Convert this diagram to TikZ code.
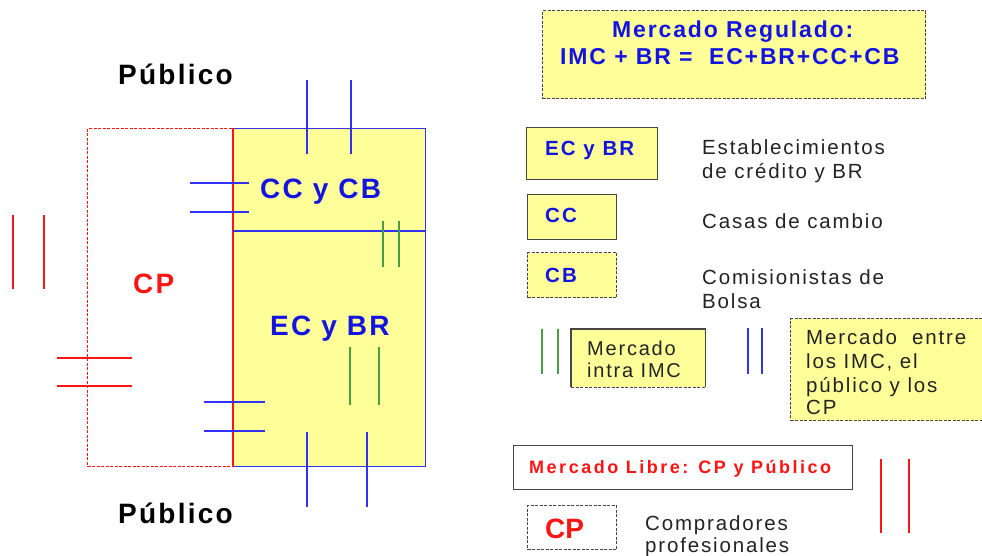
\documentclass[tikz,border=0pt]{standalone}
\usepackage{fontspec}
\setmainfont{Liberation Sans}
\newfontfamily\lsp[LetterSpace=8]{Liberation Sans}
\newfontfamily\lsn[LetterSpace=9]{Liberation Sans}
\newfontfamily\lsb[LetterSpace=10]{Liberation Sans}
\newfontfamily\lsq[LetterSpace=14]{Liberation Sans}
\definecolor{yel}{RGB}{255,255,153}
\definecolor{tblue}{RGB}{20,20,225}
\definecolor{lblue}{RGB}{50,50,245}
\definecolor{tred}{RGB}{255,20,20}
\definecolor{lgreen}{RGB}{70,160,70}
\definecolor{tgray}{RGB}{35,35,35}
\definecolor{bgray}{RGB}{70,70,70}
\begin{document}
\begin{tikzpicture}[x=1pt,y=-1pt,
  box/.style={draw=bgray,line width=1.3pt,fill=yel,inner sep=0pt,anchor=north west},
  dbox/.style={box,dash pattern=on 3pt off 1.5pt},
  txt/.style={inner sep=0pt,anchor=base west,text=tgray,font=\lsn\fontsize{20.5}{24}\selectfont},
  btxt/.style={inner sep=0pt,anchor=base west,text=tblue,font=\lsb\bfseries\fontsize{20.5}{24}\selectfont},
  big/.style={inner sep=0pt,anchor=base west,font=\lsp\bfseries\fontsize{28}{32}\selectfont},
  bl/.style={draw=lblue,line width=1.4pt},
  rl/.style={draw=tred,line width=1.4pt},
  gl/.style={draw=lgreen,line width=1.4pt}
]
\useasboundingbox (0,0) rectangle (982,555);
\clip (0,0) rectangle (982,555);
\fill[white] (0,0) rectangle (982,555);

% ---------- left diagram ----------
\node[draw=tred,dash pattern=on 3pt off 1.5pt,line width=1.3pt,inner sep=0pt,anchor=north west,
      minimum width=146pt,minimum height=338pt] (cpzone) at (87,128) {};
\node[draw=lblue,line width=1.4pt,fill=yel,inner sep=0pt,anchor=north west,
      minimum width=192pt,minimum height=338pt] (imc) at (233,128) {};
\draw[rl] (imc.north west) -- (imc.south west);
\coordinate (divL) at (233,231);
\coordinate (divR) at (425,231);
\draw[bl] (divL) -- (divR);

\node[big,text=black] (pubtop) at (118,84) {Público};
\node[big,text=black] (pubbot) at (118,523) {Público};
\node[big,text=tblue] (cccb) at (260,198) {CC y CB};
\node[big,text=tred] (cpl) at (133,293) {CP};
\node[big,text=tblue] (ecbr) at (270,335) {EC y BR};

% top blue pair
\draw[bl] (307,80) -- (307,154);
\draw[bl] (351,80) -- (351,154);
% left blue pair (upper)
\draw[bl,line width=1.1pt] (190,183) -- (249,183);
\draw[bl] (190,212) -- (249,212);
% green pair (upper)
\draw[gl] (383,221) -- (383,267);
\draw[gl] (399,221) -- (399,267);
% red vertical pair
\draw[rl] (13,215) -- (13,289);
\draw[rl] (44,215) -- (44,289);
% red horizontal pair
\draw[rl] (57,358) -- (132,358);
\draw[rl] (57,386) -- (132,386);
% green pair (lower)
\draw[gl] (350,347) -- (350,405);
\draw[gl] (379,347) -- (379,405);
% blue horizontal pair (lower)
\draw[bl] (204,402) -- (265,402);
\draw[bl] (204,431) -- (265,431);
% bottom blue pair
\draw[bl] (307,432) -- (307,507);
\draw[bl] (367,432) -- (367,507);

% ---------- legend ----------
\node[dbox,minimum width=383pt,minimum height=88pt] (reg) at (542,10) {};
\node[inner sep=0pt,anchor=base west,text=tblue,font=\lsp\bfseries\fontsize{23}{26}\selectfont] (reg1) at (612,37) {Mercado Regulado:};
\node[inner sep=0pt,anchor=base west,text=tblue,font=\lsp\bfseries\fontsize{23}{26}\selectfont] (reg2) at (560,64) {IMC + BR =\ \ EC+BR+CC+CB};

\node[box,minimum width=131pt,minimum height=52pt] (ecbrbox) at (526,127) {};
\node[btxt] (ecbrt) at (545,155) {EC y BR};
\node[txt] (est1) at (702,154) {Establecimientos};
\node[txt] (est2) at (702,178) {de crédito y BR};

\node[box,minimum width=89pt,minimum height=45pt] (ccbox) at (527,194) {};
\node[btxt] (cct) at (545,222) {CC};
\node[txt] (cas) at (702,228) {Casas de cambio};

\node[dbox,minimum width=89pt,minimum height=45pt] (cbbox) at (527,252) {};
\node[btxt] (cbt) at (545,282) {CB};
\node[txt] (com1) at (702,284) {Comisionistas de};
\node[txt] (com2) at (702,308) {Bolsa};

% intra IMC
\draw[gl] (542,329) -- (542,374);
\draw[gl] (558,329) -- (558,374);
\node[fill=yel,inner sep=0pt,anchor=north west,minimum width=134pt,minimum height=58pt] (intra) at (571,329) {};
\draw[bgray,line width=1.3pt] (intra.south west) -- (intra.north west) -- (intra.north east) -- (intra.south east);
\draw[bgray,line width=1.3pt,dash pattern=on 3pt off 1.5pt] (intra.south west) -- (intra.south east);
\node[txt,font=\lsn\fontsize{20}{24}\selectfont] (intra1) at (587,355) {Mercado};
\node[txt,font=\lsn\fontsize{20}{24}\selectfont] (intra2) at (587,377) {intra IMC};

% entre
\draw[bl] (748,328) -- (748,374);
\draw[bl] (762,328) -- (762,374);
\node[dbox,minimum width=200pt,minimum height=102pt] (entre) at (790,318) {};
\node[txt] (en1) at (806,344) {Mercado\ \ entre};
\node[txt] (en2) at (806,368) {los IMC, el};
\node[txt] (en3) at (806,392) {público y los};
\node[txt] (en4) at (806,414) {CP};

% libre
\node[box,fill=white,minimum width=339pt,minimum height=44pt] (libre) at (513,445) {};
\node[inner sep=0pt,anchor=base west,text=tred,font=\lsq\bfseries\fontsize{18}{22}\selectfont] (libret) at (529,473) {Mercado Libre: CP y Público};
\draw[rl] (881,459) -- (881,533);
\draw[rl] (909,459) -- (909,533);

% CP legend
\node[dbox,fill=white,minimum width=89pt,minimum height=44pt] (cpbox) at (527,505) {};
\node[big,text=tred,font=\bfseries\fontsize{28}{32}\selectfont] (cpt) at (545,538) {CP};
\node[txt] (comp1) at (645,530) {Compradores};
\node[txt] (comp2) at (645,552) {profesionales};
\end{tikzpicture}
\end{document}
